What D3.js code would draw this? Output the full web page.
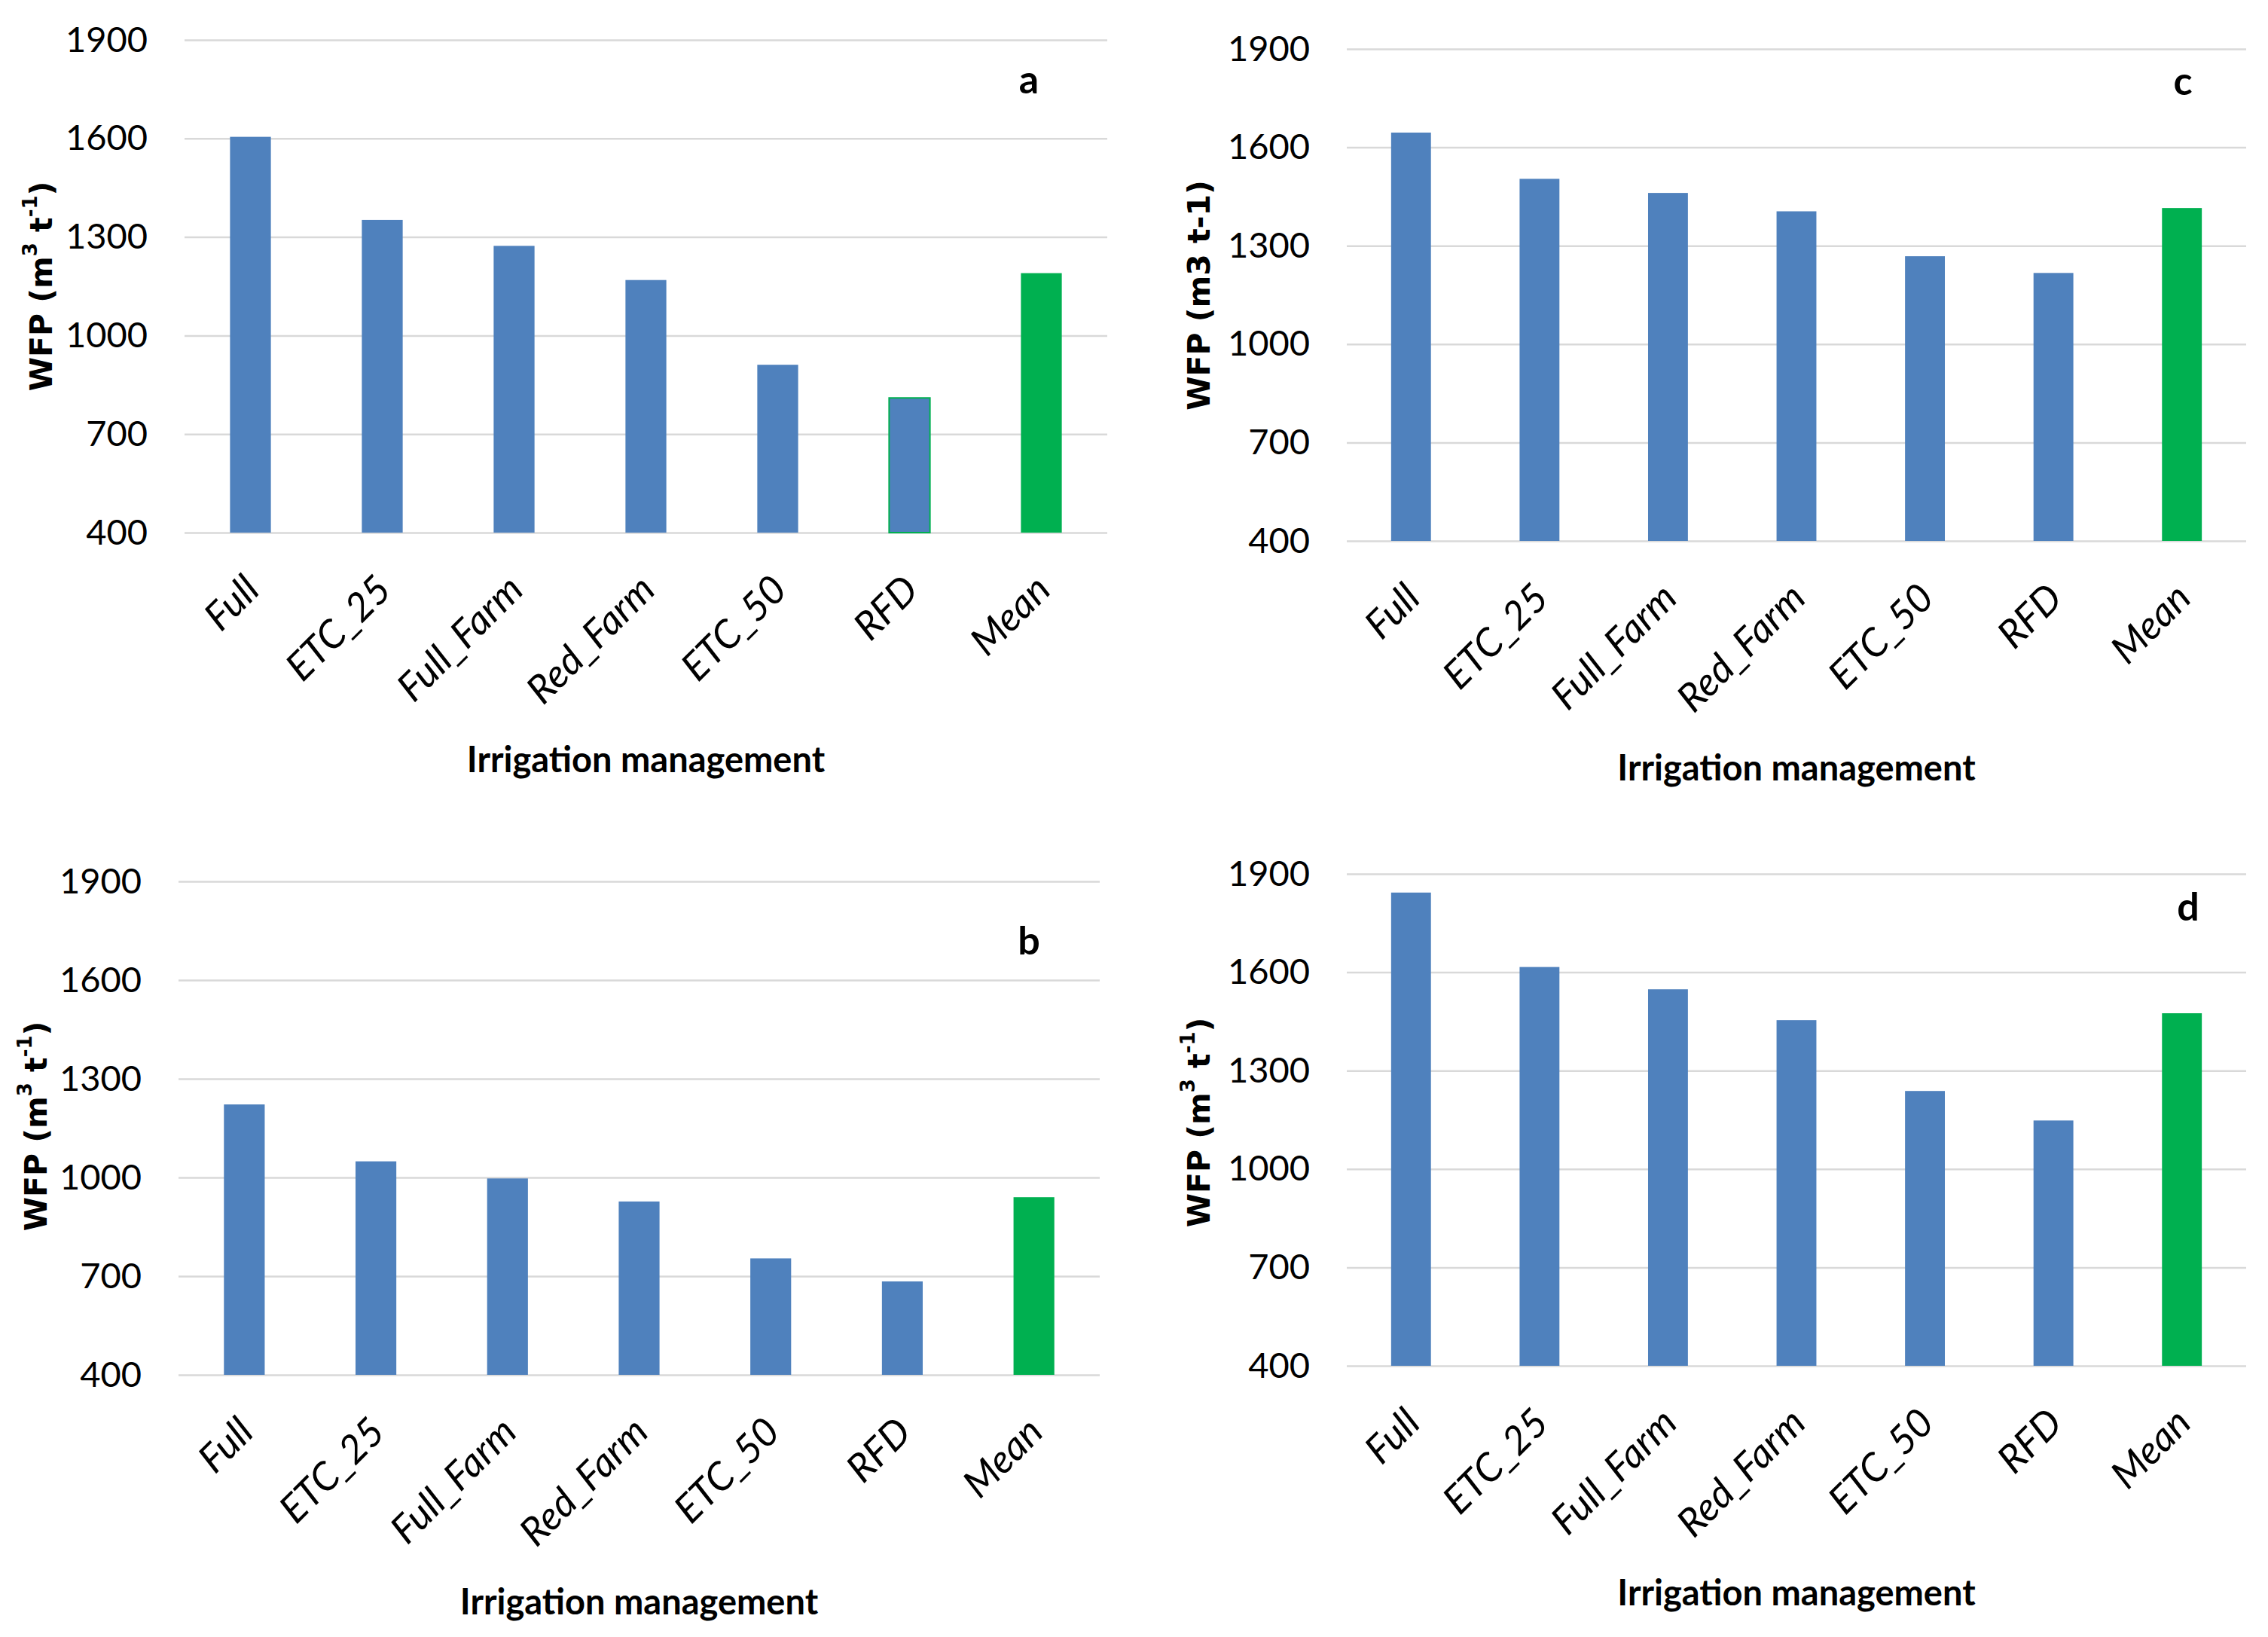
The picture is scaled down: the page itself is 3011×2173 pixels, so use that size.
<!DOCTYPE html>
<html>
<head>
<meta charset="utf-8">
<script src="https://cdn.jsdelivr.net/npm/d3@7"></script>
<style>
html,body{margin:0;padding:0;background:#fff;}
</style>
</head>
<body>
<script>
const categories = ["Full","ETC_25","Full_Farm","Red_Farm","ETC_50","RFD","Mean"];
const valuesA = [1605,1352,1273,1169,911,810,1190];
const valuesB = [1222,1049,997,927,754,684,940];
const valuesC = [1645,1504,1461,1405,1268,1217,1415];
const valuesD = [1843,1616,1548,1454,1238,1148,1475];
const yTicks = [400,700,1000,1300,1600,1900];
const xTitle = "Irrigation management";

const W = 3011, H = 2173;
const blue = "#4F81BD", green = "#00B050", grid = "#D9D9D9";
const tickFont = "Lato, 'Open Sans', sans-serif";

const panels = [
  {letter:"a", values:valuesA, x0:245, x1:1470, yTop:53, yBot:707, ylX:55, ylY:380, lx:1366, ly:124, sup:true},
  {letter:"c", values:valuesC, x0:1788, x1:2982, yTop:65, yBot:718, ylX:1592, ylY:392, lx:2898, ly:126, sup:false},
  {letter:"b", values:valuesB, x0:237, x1:1460, yTop:1170, yBot:1825, ylX:48, ylY:1495, lx:1366, ly:1267, sup:true},
  {letter:"d", values:valuesD, x0:1788, x1:2982, yTop:1160, yBot:1813, ylX:1592, ylY:1490, lx:2905, ly:1222, sup:true}
];

const svg = d3.select("body").append("svg")
  .attr("width", W).attr("height", H)
  .attr("viewBox", `0 0 ${W} ${H}`);
svg.append("rect").attr("width", W).attr("height", H).attr("fill", "#fff");

panels.forEach(p => {
  const g = svg.append("g");
  const x = d3.scaleBand().domain(categories).range([p.x0, p.x1]).paddingInner(0.69).paddingOuter(0.345);
  const y = d3.scaleLinear().domain([400, 1900]).range([p.yBot, p.yTop]);

  const yAxis = d3.axisLeft(y).tickValues(yTicks).tickSize(-(p.x1 - p.x0)).tickPadding(49).tickFormat(d3.format("d"));
  const ya = g.append("g").attr("transform", `translate(${p.x0},0)`).call(yAxis);
  ya.select(".domain").remove();
  ya.selectAll(".tick line").attr("stroke", grid).attr("stroke-width", 2.5);
  ya.selectAll(".tick text").attr("font-family", tickFont).attr("font-size", 47).attr("fill", "#000");

  g.selectAll("rect.bar").data(categories).enter().append("rect")
    .attr("class", "bar")
    .attr("x", d => x(d))
    .attr("width", x.bandwidth())
    .attr("y", (d, i) => y(p.values[i]))
    .attr("height", (d, i) => y(400) - y(p.values[i]))
    .attr("fill", d => d === "Mean" ? green : blue)
    .attr("stroke", d => (p.letter === "a" && d === "RFD") ? green : "none")
    .attr("stroke-width", 2);

  const xAxis = d3.axisBottom(x).tickSize(0).tickPadding(0);
  const xa = g.append("g").attr("transform", `translate(0,${p.yBot})`).call(xAxis);
  xa.select(".domain").remove();
  xa.selectAll(".tick text")
    .attr("font-family", tickFont).attr("font-style", "italic").attr("font-size", 52).attr("fill", "#000")
    .attr("text-anchor", "end")
    .attr("dy", "0.35em")
    .attr("transform", "translate(2,66) rotate(-45)");

  g.append("text").attr("x", (p.x0 + p.x1) / 2).attr("y", p.yBot + 318)
    .attr("text-anchor", "middle").attr("font-family", tickFont).attr("font-weight", "bold")
    .attr("font-size", 47).attr("fill", "#000").text(xTitle);

  const yt = g.append("text").attr("transform", `translate(${p.ylX},${p.ylY}) rotate(-90)`)
    .attr("text-anchor", "middle").attr("dominant-baseline", "central")
    .attr("font-family", "'DejaVu Sans', Verdana, sans-serif").attr("font-weight", "bold")
    .attr("font-size", 41).attr("fill", "#000");
  if (p.sup) {
    yt.append("tspan").text("WFP (m");
    yt.append("tspan").attr("font-size", 26).attr("dy", -15).text("3");
    yt.append("tspan").attr("dy", 15).text(" t");
    yt.append("tspan").attr("font-size", 26).attr("dy", -15).text("-1");
    yt.append("tspan").attr("dy", 15).text(")");
  } else {
    yt.text("WFP (m3 t-1)");
  }

  g.append("text").attr("x", p.lx).attr("y", p.ly).attr("text-anchor", "middle")
    .attr("font-family", tickFont).attr("font-weight", "bold").attr("font-size", 52).attr("fill", "#000")
    .text(p.letter);
});
</script>
</body>
</html>
